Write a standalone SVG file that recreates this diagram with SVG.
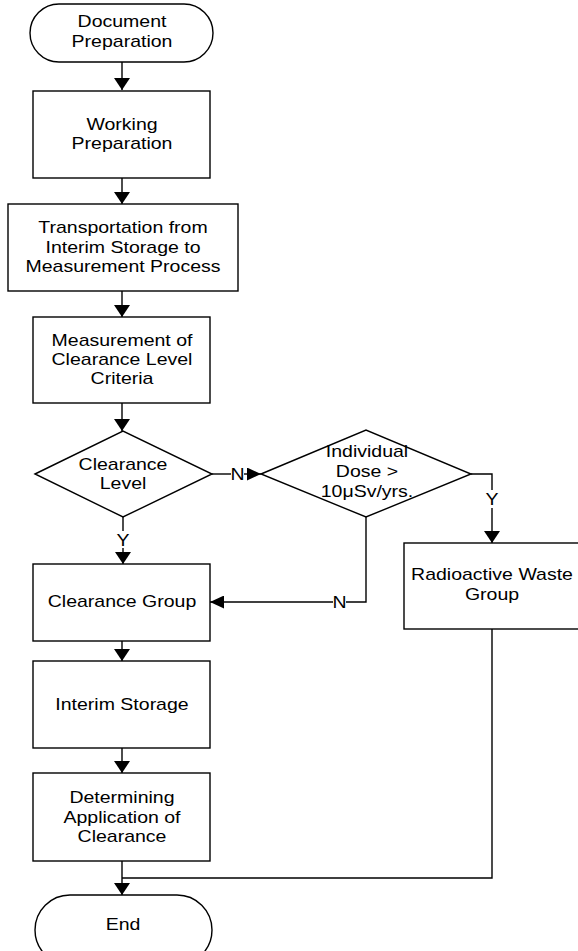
<svg xmlns="http://www.w3.org/2000/svg" width="578" height="951" viewBox="0 0 578 951">
<defs>
<style>
.s{fill:#fff;stroke:#000;stroke-width:1.4}
.c{fill:none;stroke:#000;stroke-width:1.4}
text{font-family:"Liberation Sans",Arial,sans-serif;font-size:16px;fill:#000;text-anchor:middle}
</style>
<marker id="ah" viewBox="0 0 12 16" refX="12" refY="8" markerWidth="12" markerHeight="16" markerUnits="userSpaceOnUse" orient="auto">
<path d="M0,0 L12,8 L0,16 z" fill="#000"/>
</marker>
<marker id="ahh" viewBox="0 0 14 13" refX="14" refY="6.5" markerWidth="14" markerHeight="13" markerUnits="userSpaceOnUse" orient="auto">
<path d="M0,0 L14,6.5 L0,13 z" fill="#000"/>
</marker>
</defs>
<rect width="578" height="951" fill="#fff"/>
<g id="connectors">
<line class="c" x1="122" y1="62" x2="122" y2="90" marker-end="url(#ah)"/>
<line class="c" x1="122" y1="178" x2="122" y2="204" marker-end="url(#ah)"/>
<line class="c" x1="122" y1="291" x2="122" y2="317" marker-end="url(#ah)"/>
<line class="c" x1="122" y1="403" x2="122" y2="431" marker-end="url(#ah)"/>
<line class="c" x1="212" y1="474" x2="231" y2="474"/>
<line class="c" x1="244" y1="474" x2="261" y2="474" marker-end="url(#ahh)"/>
<polyline class="c" points="471,474 492,474 492,490"/>
<line class="c" x1="492" y1="508" x2="492" y2="543" marker-end="url(#ah)"/>
<line class="c" x1="123" y1="517" x2="123" y2="531"/>
<line class="c" x1="123" y1="548" x2="123" y2="564" marker-end="url(#ah)"/>
<polyline class="c" points="366,517 366,602 346,602"/>
<line class="c" x1="333" y1="602" x2="210" y2="602" marker-end="url(#ahh)"/>
<line class="c" x1="122" y1="641" x2="122" y2="661" marker-end="url(#ah)"/>
<line class="c" x1="122" y1="748" x2="122" y2="773" marker-end="url(#ah)"/>
<line class="c" x1="122" y1="861" x2="122" y2="895" marker-end="url(#ah)"/>
<polyline class="c" points="492,629 492,878 122,878"/>
<text transform="translate(237.5 0) scale(1.22 1)" x="0" y="480">N</text>
<text transform="translate(492 0) scale(1.22 1)" x="0" y="505">Y</text>
<text transform="translate(123 0) scale(1.22 1)" x="0" y="546">Y</text>
<text transform="translate(339.5 0) scale(1.22 1)" x="0" y="608">N</text>
</g>
<g id="start">
<rect class="s" x="30" y="4" width="183" height="58" rx="29"/>
<text transform="translate(122 0) scale(1.22 1)" x="0" y="27">Document</text>
<text transform="translate(122 0) scale(1.22 1)" x="0" y="47">Preparation</text>
</g>
<g id="working">
<rect class="s" x="33" y="91" width="177" height="87"/>
<text transform="translate(122 0) scale(1.22 1)" x="0" y="130">Working</text>
<text transform="translate(122 0) scale(1.22 1)" x="0" y="149">Preparation</text>
</g>
<g id="transport">
<rect class="s" x="8" y="204" width="230" height="87"/>
<text transform="translate(123 0) scale(1.22 1)" x="0" y="233">Transportation from</text>
<text transform="translate(123 0) scale(1.22 1)" x="0" y="253">Interim Storage to</text>
<text transform="translate(123 0) scale(1.22 1)" x="0" y="272">Measurement Process</text>
</g>
<g id="measurement">
<rect class="s" x="33" y="317" width="177" height="86"/>
<text transform="translate(122 0) scale(1.22 1)" x="0" y="346">Measurement of</text>
<text transform="translate(122 0) scale(1.22 1)" x="0" y="365">Clearance Level</text>
<text transform="translate(122 0) scale(1.22 1)" x="0" y="384">Criteria</text>
</g>
<g id="clearance-level">
<polygon class="s" points="35,474 123,431 212,474 123,517"/>
<text transform="translate(123 0) scale(1.22 1)" x="0" y="470">Clearance</text>
<text transform="translate(123 0) scale(1.22 1)" x="0" y="489">Level</text>
</g>
<g id="individual-dose">
<polygon class="s" points="261,474 366,430 471,474 366,517"/>
<text transform="translate(367 0) scale(1.22 1)" x="0" y="457">Individual</text>
<text transform="translate(367 0) scale(1.22 1)" x="0" y="477">Dose &gt;</text>
<text transform="translate(367 0) scale(1.22 1)" x="0" y="497">10μSv/yrs.</text>
</g>
<g id="radioactive-waste">
<rect class="s" x="404" y="543" width="200" height="86"/>
<text transform="translate(492 0) scale(1.22 1)" x="0" y="580">Radioactive Waste</text>
<text transform="translate(492 0) scale(1.22 1)" x="0" y="600">Group</text>
</g>
<g id="clearance-group">
<rect class="s" x="33" y="564" width="177" height="77"/>
<text transform="translate(122 0) scale(1.22 1)" x="0" y="607">Clearance Group</text>
</g>
<g id="interim-storage">
<rect class="s" x="33" y="661" width="177" height="87"/>
<text transform="translate(122 0) scale(1.22 1)" x="0" y="710">Interim Storage</text>
</g>
<g id="determining">
<rect class="s" x="33" y="773" width="177" height="88"/>
<text transform="translate(122 0) scale(1.22 1)" x="0" y="803">Determining</text>
<text transform="translate(122 0) scale(1.22 1)" x="0" y="823">Application of</text>
<text transform="translate(122 0) scale(1.22 1)" x="0" y="842">Clearance</text>
</g>
<g id="end">
<rect class="s" x="35" y="895" width="177" height="70" rx="35"/>
<text transform="translate(123 0) scale(1.22 1)" x="0" y="930">End</text>
</g>
</svg>
